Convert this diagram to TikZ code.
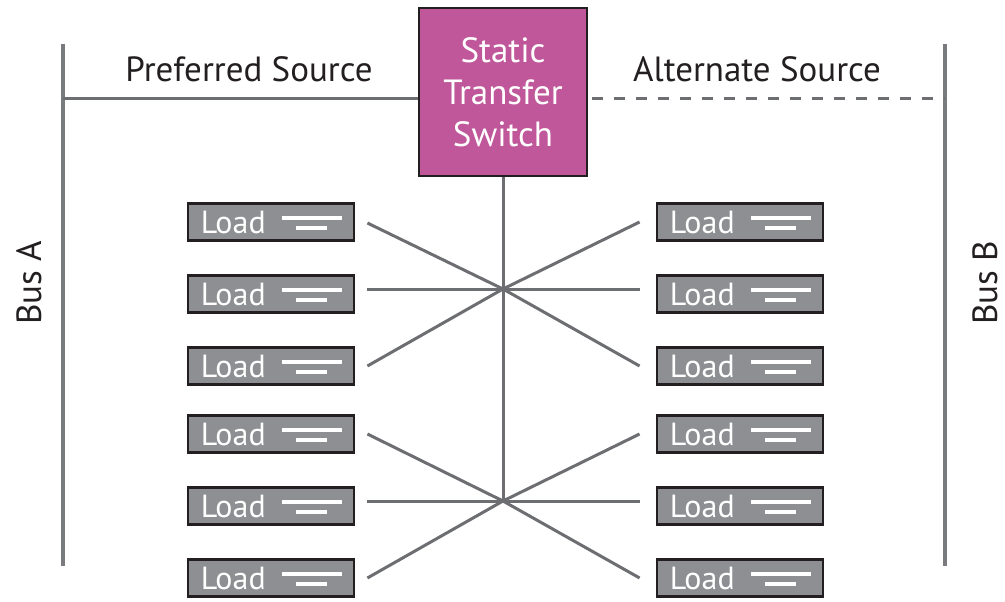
\documentclass[tikz,border=0pt]{standalone}
\usepackage{fontspec}
\setmainfont{PT Sans}
\usetikzlibrary{calc}
\definecolor{wire}{HTML}{6D6E71}
\definecolor{bus}{HTML}{7A7B7E}
\definecolor{stsfill}{HTML}{C0579A}
\definecolor{loadfill}{HTML}{8E8F92}
\definecolor{edge}{HTML}{231F20}
\tikzset{
  wireline/.style={draw=wire, line width=3pt},
  busline/.style={draw=bus, line width=4pt},
  loadbox/.style={draw=edge, fill=loadfill, line width=2.8pt, minimum width=166pt, minimum height=37pt, inner sep=0pt},
  stsbox/.style={draw=edge, fill=stsfill, line width=2.8pt, minimum width=168pt, minimum height=168pt, inner sep=0pt, text=white, align=center, font=\fontsize{35}{42}\selectfont},
  label/.style={text=edge, font=\fontsize{35}{40}\selectfont, inner sep=0pt},
  loadtext/.style={text=white, font=\fontsize{32}{36}\selectfont, inner sep=0pt, anchor=west},
  loadmark/.style={draw=white, line width=3.2pt},
}
\begin{document}
\begin{tikzpicture}[x=1pt, y=-1pt]
\useasboundingbox (0,0) rectangle (1005,602);
% buses
\coordinate (AT) at (63,44);
\coordinate (AB) at (63,566);
\coordinate (BT) at (945,44);
\coordinate (BB) at (945,566);
\draw[busline] (AT) -- (AB);
\draw[busline] (BT) -- (BB);
\node[label, rotate=90] (busA) at (29,283) {Bus A};
\node[label, rotate=90] (busB) at (985,283) {Bus B};
% STS
\node[stsbox] (sts) at (503,92) {Static\\Transfer\\Switch};
\coordinate (pA) at (63,99);
\coordinate (pB) at (945,99);
\draw[wireline] (pA) -- (pA -| sts.west);
\draw[wireline, dash pattern=on 11pt off 11pt] (sts.east |- pB) ++(4,0) -- (pB);
\node[label] (pref) at (249,69) {Preferred Source};
\node[label] (alt) at (757,69) {Alternate Source};
% loads
\foreach \i/\y in {1/222,2/294,3/366,4/434,5/506,6/578}{
  \node[loadbox] (L\i) at (271,\y) {};
  \node[loadbox] (R\i) at (740,\y) {};
  \foreach \s in {L,R}{
    \node[loadtext] at ($(\s\i.west)+(14,0)$) {Load};
    \draw[loadmark] ($(\s\i.west)+(95,-4)$) -- ++(60,0);
    \draw[loadmark] ($(\s\i.west)+(109,6)$) -- ++(31,0);
  }
}
% crossing points
\coordinate (c1) at (503,289);
\coordinate (c2) at (503,501);
\draw[wireline] (sts.south) -- (c2);
\coordinate (l1) at ($(L1.east)+(12,1)$);
\coordinate (l3) at ($(L3.east)+(12,0)$);
\coordinate (r1) at ($(R1.west)+(-16,0)$);
\coordinate (r3) at ($(R3.west)+(-16,0)$);
\draw[wireline] (l1) -- (c1) -- (r3);
\draw[wireline] (l3) -- (c1) -- (r1);
\draw[wireline] (l1 |- c1) -- (r1 |- c1);
\coordinate (l4) at ($(L4.east)+(12,0)$);
\coordinate (l6) at ($(L6.east)+(12,0)$);
\coordinate (r4) at ($(R4.west)+(-16,0)$);
\coordinate (r6) at ($(R6.west)+(-16,0)$);
\draw[wireline] (l4) -- (c2) -- (r6);
\draw[wireline] (l6) -- (c2) -- (r4);
\draw[wireline] (l4 |- c2) -- (r4 |- c2);
\end{tikzpicture}
\end{document}
